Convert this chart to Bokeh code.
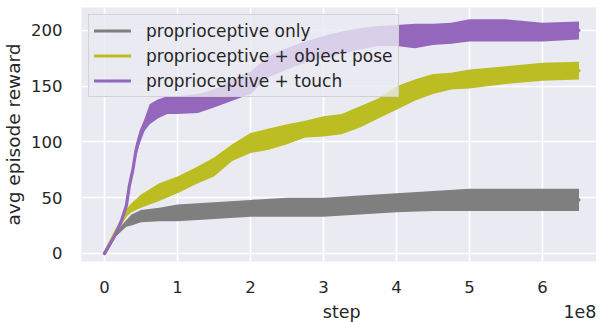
from bokeh.plotting import figure
from bokeh.models import (ColumnDataSource, Range1d, FixedTicker, Legend, LegendItem,
                          LinearAxis)
from bokeh.embed import file_html
from bokeh.resources import INLINE

# training step, in units of 1e8
x_ticks = [0, 1, 2, 3, 4, 5, 6]
y_ticks = [0, 50, 100, 150, 200]

# proprioceptive only: envelope (low / high) of the noisy curve
grey_x = [0, 0.15, 0.3, 0.37, 0.5, 0.75, 1.0, 1.5, 2.0, 2.5, 3.0, 3.5, 4.0, 4.5, 5.0, 5.5, 6.0, 6.5]
grey_lo = [0, 15, 24, 25, 28, 29, 29, 31, 33, 33, 33, 35, 37, 38, 38, 38, 38, 38]
grey_hi = [0, 19, 30, 35, 39, 41, 44, 46, 48, 50, 50, 52, 54, 56, 58, 58, 58, 58]

# proprioceptive + object pose
olive_x = [0, 0.15, 0.3, 0.37, 0.5, 0.75, 1.0, 1.25, 1.5, 1.75, 2.0, 2.25, 2.5, 2.75, 3.0,
           3.25, 3.5, 3.75, 4.0, 4.25, 4.5, 4.75, 5.0, 5.5, 6.0, 6.5]
olive_lo = [0, 17, 33, 37, 41, 47, 54, 62, 69, 83, 90, 93, 98, 104, 105,
            107, 113, 121, 129, 137, 143, 147, 148, 152, 155, 156]
olive_hi = [0, 21, 40, 45, 53, 63, 69, 77, 86, 98, 108, 112, 116, 119, 123,
            125, 132, 139, 150, 156, 161, 162, 165, 168, 171, 172]

# proprioceptive + touch
purple_x = [0, 0.15, 0.23, 0.3, 0.34, 0.39, 0.43, 0.48, 0.55, 0.62, 0.73, 0.86, 1.0, 1.28,
            1.5, 1.75, 2.0, 2.25, 2.5, 2.75, 3.0, 3.25, 3.5, 3.75, 4.0, 4.25, 4.5, 4.75,
            5.0, 5.5, 6.0, 6.5]
purple_lo = [0, 16, 28, 40, 56, 71, 86, 98, 110, 116, 121, 125, 125, 126,
             131, 137, 143, 158, 165, 171, 175, 179, 183, 186, 186, 184, 187, 188,
             190, 190, 190, 192]
purple_hi = [0, 18, 30, 46, 65, 80, 98, 110, 121, 134, 138, 141, 141, 143,
             147, 156, 163, 177, 184, 190, 195, 199, 202, 204, 205, 206, 206, 207,
             210, 210, 207, 208]

labels = ["proprioceptive only", "proprioceptive + object pose", "proprioceptive + touch"]
colors = ["#7f7f7f", "#bcbd22", "#9467bd"]
x_label = "step"
y_label = "avg episode reward"
x_offset_text = "1e8"

TEXT = "#262626"
FONT = "DejaVu Sans"

p = figure(frame_width=515, frame_height=254, output_backend="svg", toolbar_location=None,
           x_range=Range1d(-0.315, 6.74), y_range=Range1d(-7.2, 220.6),
           min_border_left=74, min_border_right=0, min_border_top=7, min_border_bottom=0)
p.background_fill_color = "#EAEAF2"
p.border_fill_color = "white"
p.outline_line_color = None

series = [(grey_x, grey_lo, grey_hi), (olive_x, olive_lo, olive_hi), (purple_x, purple_lo, purple_hi)]
items = []
for (xs, lo, hi), lab, col in zip(series, labels, colors):
    mid = [(a + b) / 2 for a, b in zip(lo, hi)]
    src = ColumnDataSource(dict(x=xs, lo=lo, hi=hi, mid=mid))
    p.varea(x="x", y1="lo", y2="hi", source=src, fill_color=col, fill_alpha=1.0)
    r = p.line(x="x", y="mid", source=src, line_color=col, line_width=3.2, line_cap="round",
               line_join="round")
    items.append(LegendItem(label=lab, renderers=[r]))

p.xaxis.ticker = FixedTicker(ticks=x_ticks)
p.yaxis.ticker = FixedTicker(ticks=y_ticks)
p.xaxis.major_label_overrides = {t: str(t) for t in x_ticks}

# second row below the tick labels: the axis title and the scale factor
row2_pos = [3.25, 6.52]
ax2 = LinearAxis(ticker=FixedTicker(ticks=row2_pos),
                 major_label_overrides={row2_pos[0]: x_label, row2_pos[1]: x_offset_text})
p.add_layout(ax2, "below")

for ax in (p.xaxis[0], p.yaxis[0], ax2):
    ax.axis_line_color = None
    ax.major_tick_line_color = None
    ax.minor_tick_line_color = None
    ax.major_label_text_font = FONT
    ax.major_label_text_font_size = "16.5px"
    ax.major_label_text_color = TEXT
    ax.axis_label_text_font = FONT
    ax.axis_label_text_font_size = "18.5px"
    ax.axis_label_text_font_style = "normal"
    ax.axis_label_text_color = TEXT
ax2.major_label_text_font_size = "17.5px"
ax2.major_label_standoff = 0
p.yaxis.axis_label = y_label
p.xaxis[0].major_label_standoff = 13
p.yaxis.major_label_standoff = 13
p.yaxis.axis_label_standoff = 4

p.xgrid.grid_line_color = "white"
p.ygrid.grid_line_color = "white"
p.xgrid.grid_line_width = 1.6
p.ygrid.grid_line_width = 1.6

legend = Legend(items=items, location="top_left", margin=7)
legend.background_fill_color = "#EAEAF2"
legend.background_fill_alpha = 0.8
legend.border_line_color = "#cccccc"
legend.border_line_alpha = 0.8
legend.border_line_width = 1
legend.label_text_font = FONT
legend.label_text_font_size = "17px"
legend.label_text_color = TEXT
legend.glyph_width = 37
legend.glyph_height = 21
legend.label_height = 21
legend.label_standoff = 15
legend.spacing = 4
legend.padding = 5
p.add_layout(legend, "center")

open("out.html", "w").write(file_html(p, INLINE))
